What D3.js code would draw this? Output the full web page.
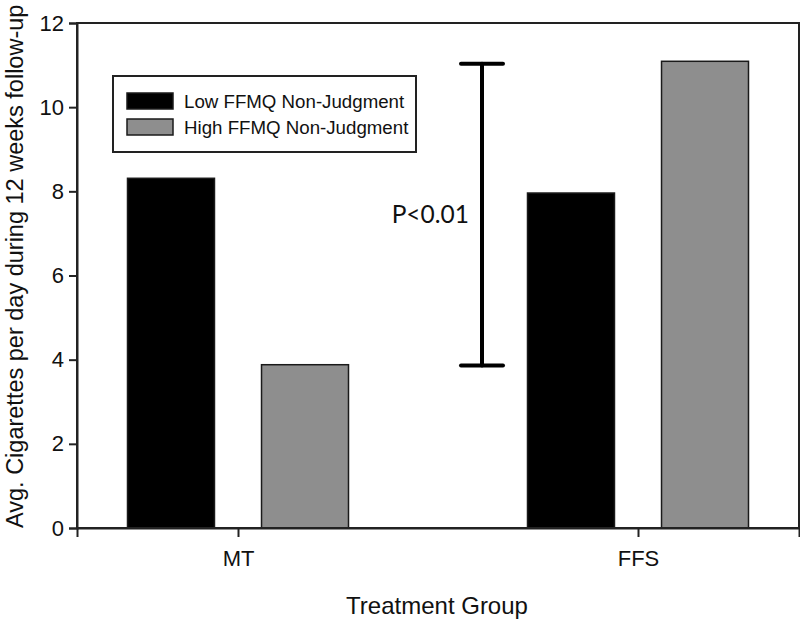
<!DOCTYPE html>
<html>
<head>
<meta charset="utf-8">
<script src="https://cdn.jsdelivr.net/npm/d3@7"></script>
<style>
  html, body { margin: 0; padding: 0; background: #fff; }
  svg { display: block; }
</style>
</head>
<body>
<div id="chart"></div>
<script>
// ---- data ----
const categories = ["MT", "FFS"];
const seriesNames = ["Low FFMQ Non-Judgment", "High FFMQ Non-Judgment"];
const lowValues = [8.31, 7.96];
const highValues = [3.88, 11.09];
const yTicks = [0, 2, 4, 6, 8, 10, 12];
const sigLow = 3.86;
const sigHigh = 11.03;
const sigLabel = "P<0.01";
const xTitle = "Treatment Group";
const yTitle = "Avg. Cigarettes per day during 12 weeks follow-up";

// ---- layout ----
const W = 800, H = 619;
const plot = { left: 77, right: 799, top: 23, bottom: 528 };
const colors = ["#000000", "#8e8e8e"];
const axisFont = "'Liberation Sans', Arial, sans-serif";

const svg = d3.select("#chart").append("svg")
  .attr("width", W).attr("height", H);

const y = d3.scaleLinear().domain([0, 12]).range([plot.bottom, plot.top]);
const x = d3.scalePoint().domain(categories).range([plot.left, plot.right]).padding(0.4025);
const xs = d3.scaleBand().domain(seriesNames).range([-110.5, 110.5]).paddingInner(0.351).paddingOuter(0);

const data = categories.map((c, i) => ({
  cat: c,
  vals: [
    { s: seriesNames[0], v: lowValues[i], c: colors[0] },
    { s: seriesNames[1], v: highValues[i], c: colors[1] }
  ]
}));

// bars
const g = svg.append("g");
g.selectAll("g.grp").data(data).join("g")
  .attr("class", "grp")
  .attr("transform", d => `translate(${x(d.cat)},0)`)
  .selectAll("rect").data(d => d.vals).join("rect")
  .attr("x", d => xs(d.s))
  .attr("width", xs.bandwidth())
  .attr("y", d => y(d.v))
  .attr("height", d => y(0) - y(d.v))
  .attr("fill", d => d.c)
  .attr("stroke", "#1a1a1a")
  .attr("stroke-width", 1.5);

// frame
svg.append("rect")
  .attr("x", plot.left).attr("y", plot.top)
  .attr("width", plot.right - plot.left).attr("height", plot.bottom - plot.top)
  .attr("fill", "none").attr("stroke", "#222").attr("stroke-width", 2);

// y axis
const yAxis = d3.axisLeft(y).tickValues(yTicks).tickSize(8).tickPadding(5).tickFormat(d3.format("d"));
const ya = svg.append("g").attr("transform", `translate(${plot.left},0)`).call(yAxis);
ya.select(".domain").attr("stroke", "#222").attr("stroke-width", 2);
ya.selectAll(".tick line").attr("stroke", "#222").attr("stroke-width", 2);
ya.selectAll(".tick text").attr("font-family", axisFont).attr("font-size", 22).attr("fill", "#111");

// x axis
const xAxis = d3.axisBottom(x).tickSize(9).tickPadding(13);
const xa = svg.append("g").attr("transform", `translate(0,${plot.bottom})`).call(xAxis);
xa.select(".domain").attr("stroke", "#222").attr("stroke-width", 2);
xa.selectAll(".tick line").attr("stroke", "#222").attr("stroke-width", 2);
xa.selectAll(".tick text").attr("font-family", axisFont).attr("font-size", 22).attr("fill", "#111");

// axis titles
svg.append("text")
  .attr("x", 437).attr("y", 614)
  .attr("text-anchor", "middle")
  .attr("font-family", axisFont).attr("font-size", 24).attr("fill", "#111")
  .text(xTitle);

svg.append("text")
  .attr("transform", `translate(23,${plot.bottom}) rotate(-90)`)
  .attr("text-anchor", "start")
  .attr("font-family", axisFont).attr("font-size", 23.5).attr("fill", "#111")
  .text(yTitle);

// significance bracket
const bx = x(categories[0]) + 0.61 * (x(categories[1]) - x(categories[0]));
const capHalf = 21;
const br = svg.append("g").attr("stroke", "#000").attr("stroke-width", 4).attr("stroke-linecap", "round");
br.append("line").attr("x1", bx).attr("x2", bx).attr("y1", y(sigHigh)).attr("y2", y(sigLow));
br.append("line").attr("x1", bx - capHalf).attr("x2", bx + capHalf).attr("y1", y(sigHigh)).attr("y2", y(sigHigh));
br.append("line").attr("x1", bx - capHalf).attr("x2", bx + capHalf).attr("y1", y(sigLow)).attr("y2", y(sigLow));

svg.append("text")
  .attr("x", bx - 13).attr("y", 223)
  .attr("text-anchor", "end")
  .attr("font-family", "Lato, 'Open Sans', sans-serif").attr("font-size", 24.5).attr("fill", "#111")
  .text(sigLabel);

// legend
const leg = { x: 113, y: 76, w: 303, h: 76 };
svg.append("rect")
  .attr("x", leg.x).attr("y", leg.y).attr("width", leg.w).attr("height", leg.h)
  .attr("fill", "#fff").attr("stroke", "#222").attr("stroke-width", 2);
const li = svg.selectAll("g.leg").data(seriesNames).join("g")
  .attr("class", "leg")
  .attr("transform", (d, i) => `translate(${leg.x + 14},${leg.y + 17 + i * 26})`);
li.append("rect")
  .attr("width", 46).attr("height", 16)
  .attr("fill", (d, i) => colors[i])
  .attr("stroke", "#1a1a1a").attr("stroke-width", 1.5);
li.append("text")
  .attr("x", 57).attr("y", 15)
  .attr("font-family", axisFont).attr("font-size", 18.7).attr("fill", "#111")
  .text(d => d);
</script>
</body>
</html>
